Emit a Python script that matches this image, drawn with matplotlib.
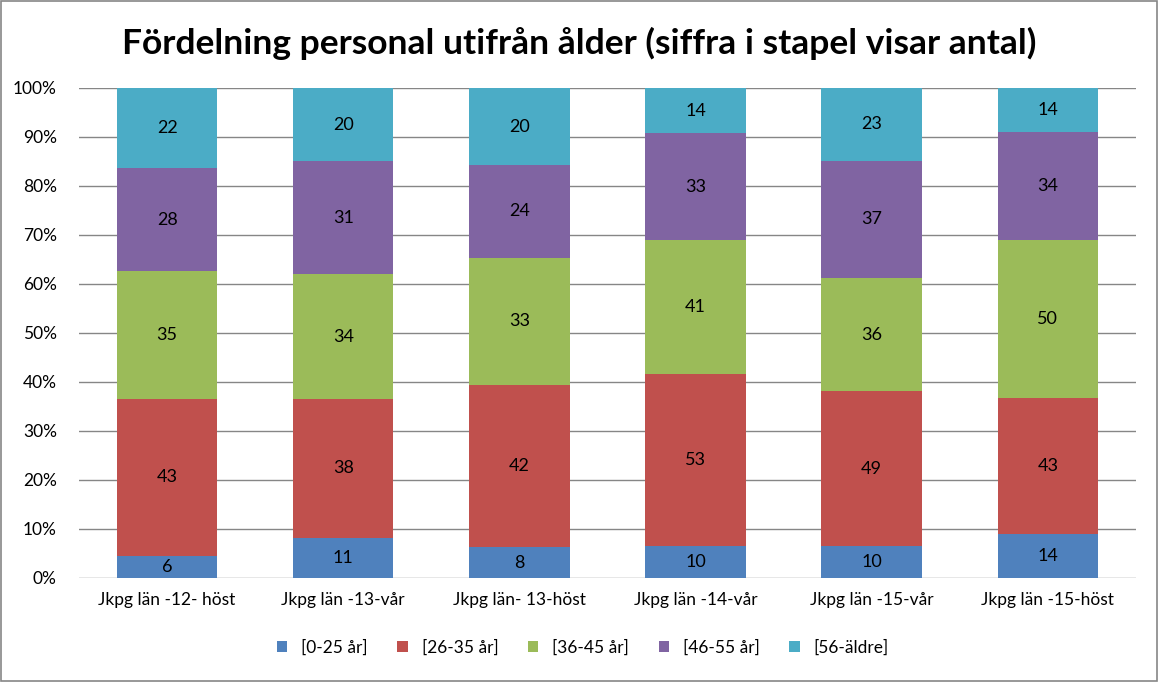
import numpy as np
import matplotlib.pyplot as plt
from matplotlib.patches import Rectangle

# Antal personal per åldersgrupp och mätning
categories = ["Jkpg län -12- höst", "Jkpg län -13-vår", "Jkpg län- 13-höst",
              "Jkpg län -14-vår", "Jkpg län -15-vår", "Jkpg län -15-höst"]
groups = ["[0-25 år]", "[26-35 år]", "[36-45 år]", "[46-55 år]", "[56-äldre]"]
age_0_25 = [6, 11, 8, 10, 10, 14]
age_26_35 = [43, 38, 42, 53, 49, 43]
age_36_45 = [35, 34, 33, 41, 36, 50]
age_46_55 = [28, 31, 24, 33, 37, 34]
age_56_up = [22, 20, 20, 14, 23, 14]

colors = ["#4F81BD", "#C0504D", "#9BBB59", "#8064A2", "#4BACC6"]

plt.rcParams['font.family'] = ['Lato', 'DejaVu Sans']

counts = np.array([age_0_25, age_26_35, age_36_45, age_46_55, age_56_up], dtype=float)
shares = counts / counts.sum(axis=0) * 100  # andel i procent

fig = plt.figure(figsize=(11.59, 6.82), dpi=100)
ax = fig.add_axes([0.0682, 0.1525, 0.9118, 0.7185])

x = np.arange(len(categories))
bottom = np.zeros(len(categories))
for i, name in enumerate(groups):
    ax.bar(x, shares[i], 0.57, bottom=bottom, color=colors[i], label=name, zorder=3)
    for xi, b, h, n in zip(x, bottom, shares[i], counts[i]):
        ax.text(xi, b + h / 2, f"{int(n)}", ha='center', va='center', fontsize=13, color='black', zorder=4)
    bottom += shares[i]

ax.set_xlim(-0.5, len(categories) - 0.5)
ax.set_ylim(0, 100)
ax.set_yticks(np.arange(0, 101, 10))
ax.set_yticklabels([f"{v}%" for v in range(0, 101, 10)], fontsize=12.5)
ax.set_xticks(x)
ax.set_xticklabels(categories, fontsize=12.5)
ax.tick_params(axis='both', length=0, pad=10)
ax.tick_params(axis='y', pad=16)
ax.grid(axis='y', color='#868686', linewidth=1, zorder=0)
for s in ax.spines.values():
    s.set_visible(False)

fig.text(0.5, 0.936, "Fördelning personal utifrån ålder (siffra i stapel visar antal)",
         fontsize=25.5, fontweight='bold', ha='center', va='center')

fig.legend(loc='center', bbox_to_anchor=(0.503, 0.05), ncol=5, frameon=False, fontsize=12.5,
           handlelength=0.6, handleheight=0.6, columnspacing=1.7, handletextpad=0.8)

fig.patches.append(Rectangle((0.001, 0.001), 0.997, 0.997, transform=fig.transFigure,
                             fill=False, edgecolor='#868686', linewidth=1.2))

fig.savefig("out.png", dpi=100)
